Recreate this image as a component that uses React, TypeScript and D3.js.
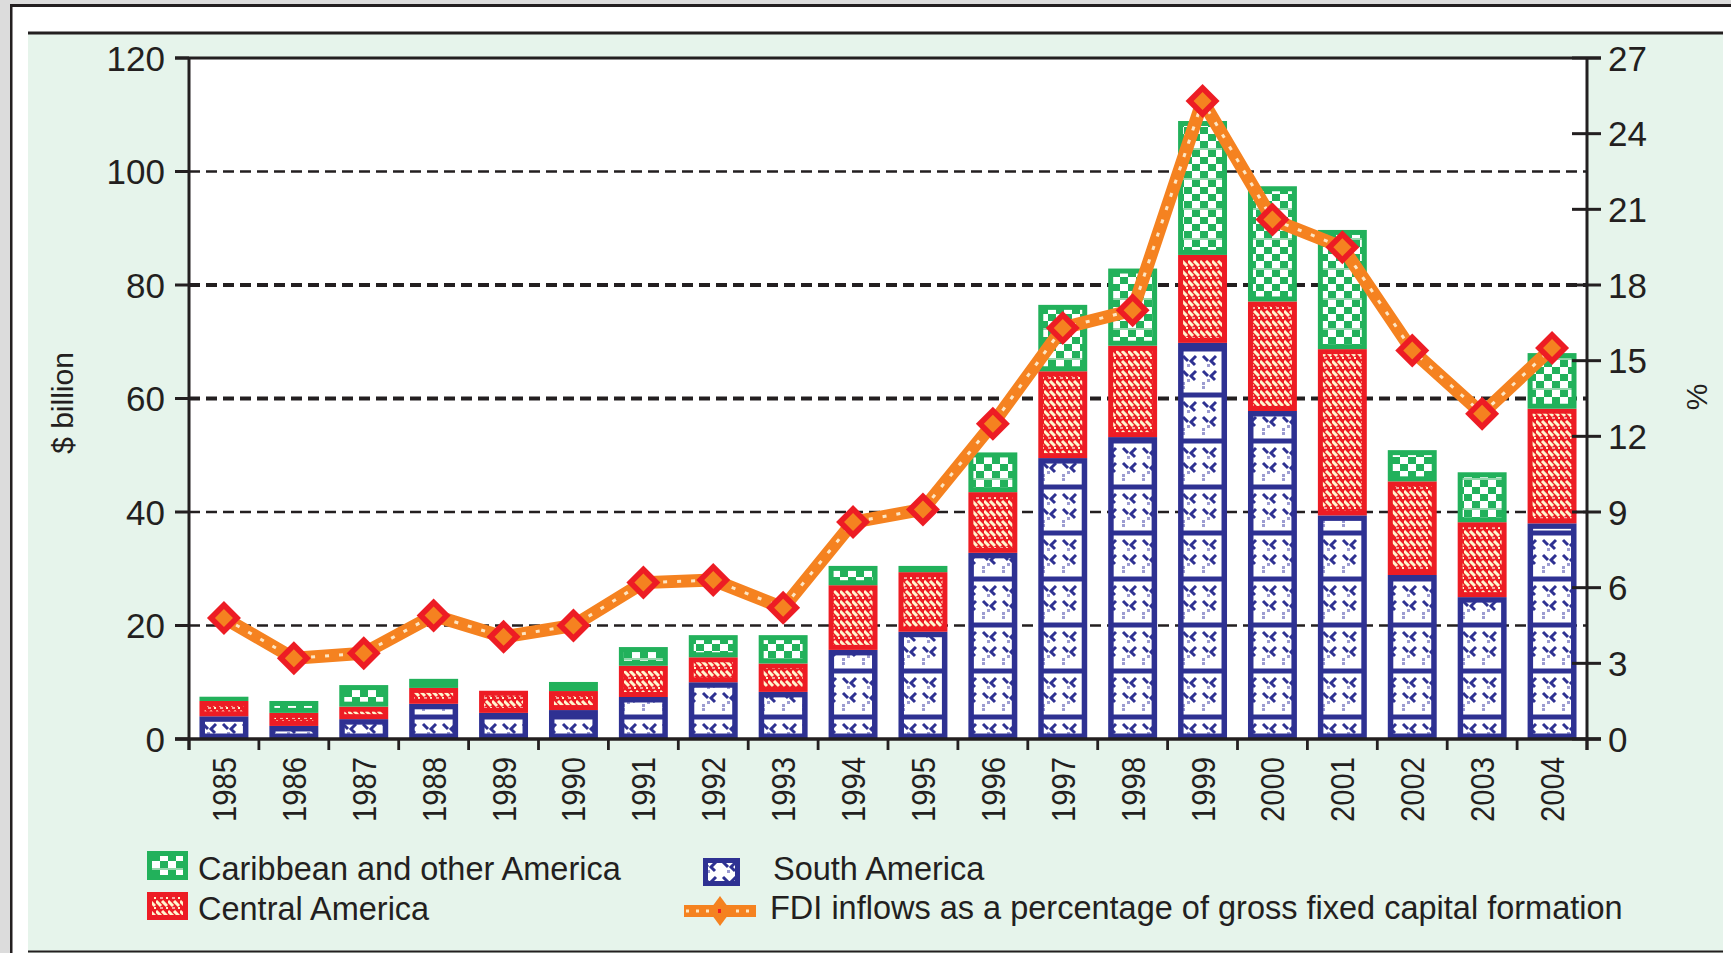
import React from 'react';
import * as d3 from 'd3';

const years = ['1985','1986','1987','1988','1989','1990','1991','1992','1993','1994','1995','1996','1997','1998','1999','2000','2001','2002','2003','2004'];
const southAmerica = [4.0, 2.3, 3.5, 6.2, 4.6, 5.1, 7.4, 10.0, 8.3, 15.7, 18.9, 32.8, 49.5, 53.2, 69.8, 57.8, 39.4, 28.9, 25.0, 38.0];
const centralAmerica = [2.7, 2.3, 2.2, 2.8, 3.9, 3.35, 5.5, 4.4, 5.0, 11.4, 10.5, 10.7, 15.3, 16.1, 15.5, 19.3, 29.3, 16.5, 13.2, 20.2];
const caribbean = [0.75, 2.1, 3.8, 1.6, 0, 1.6, 3.3, 3.9, 5.0, 3.4, 1.1, 7.0, 11.7, 13.6, 23.6, 20.3, 21.0, 5.5, 8.8, 9.8];
const fdiPct = [4.8, 3.2, 3.4, 4.9, 4.05, 4.5, 6.2, 6.3, 5.2, 8.6, 9.1, 12.5, 16.3, 17.0, 25.3, 20.6, 19.5, 15.4, 12.9, 15.5];
const leftTicks = [0, 20, 40, 60, 80, 100, 120];
const rightTicks = [0, 3, 6, 9, 12, 15, 18, 21, 24, 27];
const gridValues = [20, 40, 60, 80, 100];
const boldGrid = [60, 80];

const seriesKeys = ['south', 'central', 'carib'];
const seriesLabels: Record<string, string> = {
  carib: 'Caribbean and other America',
  central: 'Central America',
  south: 'South America',
  fdi: 'FDI inflows as a percentage of gross fixed capital formation',
};

const NAVY = '#2e3192';
const RED = '#ed1c24';
const GREEN = '#22b15b';
const ORANGE = '#f58220';
const INK = '#231f20';
const PANEL = '#e6f4eb';
const CREAM = '#fff7cf';
const FONT = '"Liberation Sans", Arial, Helvetica, sans-serif';

const W = 1731, H = 953;
const PL = 189, PR = 1587, PT = 58, PB = 739;

const colorOf: Record<string, string> = { south: NAVY, central: RED, carib: GREEN };
const patOf: Record<string, string> = { south: 'patSA', central: 'patCA', carib: 'patCB' };

function Seg({ x0, y0, w, h, k }: { x0: number; y0: number; w: number; h: number; k: string }) {
  const b = k === 'south' ? 5.5 : 5;
  return (
    <g>
      <rect x={x0} y={y0} width={w} height={h} fill={colorOf[k]} />
      {h > 2 * b + 1 && (
        <rect x={x0 + b} y={y0 + b} width={w - 2 * b} height={h - 2 * b} fill={`url(#${patOf[k]})`} />
      )}
    </g>
  );
}

export default function App() {
  const x = d3.scaleBand<string>().domain(years).range([PL, PR]).paddingInner(0.3).paddingOuter(0.15);
  const y = d3.scaleLinear().domain([0, 120]).range([PB, PT]);
  const y2 = d3.scaleLinear().domain([0, 27]).range([PB, PT]);
  const step = x.step();
  const bw = x.bandwidth();
  const cx = (yr: string) => (x(yr) as number) + bw / 2;
  const boundaries = [...years.map((yr) => (x(yr) as number) - step * 0.15), PR];

  const rows = years.map((yr, i) => ({ year: yr, south: southAmerica[i], central: centralAmerica[i], carib: caribbean[i] }));
  const stacked = d3.stack<any>().keys(seriesKeys)(rows);

  const line = d3.line<number>().x((_, i) => cx(years[i])).y((d) => y2(d));
  const linePath = line(fdiPct) || '';

  const diamond = (px: number, py: number, r: number) => `M${px},${py - r}L${px + r},${py}L${px},${py + r}L${px - r},${py}Z`;

  return (
    <div style={{ position: 'absolute', left: 0, top: 0, width: W, height: H }}>
      <svg width={W} height={H} viewBox={`0 0 ${W} ${H}`} style={{ display: 'block' }}>
        <defs>
          <pattern id="patSA" patternUnits="userSpaceOnUse" x={0} y={0} width={20} height={46}>
            <rect width={20} height={46} fill="#ffffff" />
            <rect x={0} y={24.5} width={20} height={5} fill={NAVY} />
            <path d="M3,3 L8,8 M16,3 L11,8 L15,12" stroke={NAVY} strokeWidth={3} fill="none" />
            <rect x={7} y={11} width={3} height={3} fill="#9c9cd1" />
            <rect x={2} y={14} width={3} height={3} fill="#9c9cd1" />
            <path d="M3,34 L8,39 M16,34 L11,39 L15,43" stroke={NAVY} strokeWidth={3} fill="none" />
            <rect x={7} y={42} width={3} height={3} fill="#9c9cd1" />
            <rect x={2} y={18} width={3} height={3} fill="#9c9cd1" />
          </pattern>
          <pattern id="patCA" patternUnits="userSpaceOnUse" x={0} y={0} width={12} height={10}>
            <rect width={12} height={10} fill={RED} />
            <path d="M0,1 L5,6 M6,1 L11,6" stroke={CREAM} strokeWidth={3} fill="none" />
            <rect x={4} y={7} width={3} height={2} fill="#f6a7a2" />
            <rect x={10} y={7} width={2} height={2} fill={CREAM} />
          </pattern>
          <pattern id="patCB" patternUnits="userSpaceOnUse" x={0} y={0} width={16} height={30}>
            <rect width={16} height={30} fill={GREEN} />
            <rect x={0} y={0} width={8} height={7} fill="#ffffff" />
            <rect x={8} y={7} width={8} height={7} fill="#ffffff" />
            <rect x={0} y={14} width={8} height={7} fill="#ffffff" />
            <rect x={8} y={21} width={8} height={7} fill="#ffffff" />
            <rect x={0} y={28} width={16} height={2} fill="#93d8ac" />
          </pattern>
        </defs>

        {/* page frame */}
        <rect x={0} y={0} width={W} height={H} fill="#ffffff" />
        <rect x={0} y={0} width={10} height={H} fill="#dcdcdc" />
        <rect x={0} y={0} width={W} height={4} fill="#dcdcdc" />
        <rect x={10} y={4} width={W - 10} height={3} fill={INK} />
        <rect x={10} y={4} width={2.5} height={H} fill={INK} />

        {/* green panel */}
        <rect x={28} y={34} width={1695} height={H - 34} fill={PANEL} />
        <line x1={28} x2={1723} y1={33} y2={33} stroke={INK} strokeWidth={3} />
        <line x1={28} x2={1723} y1={951.5} y2={951.5} stroke={INK} strokeWidth={2} />

        {/* plot background */}
        <rect x={PL} y={PT} width={PR - PL} height={PB - PT} fill="#ffffff" />

        {/* grid */}
        {gridValues.map((v) => (
          <line key={v} x1={PL} x2={PR} y1={y(v)} y2={y(v)} stroke={INK}
            strokeWidth={boldGrid.includes(v) ? 4.2 : 2.6} strokeDasharray="11,6" />
        ))}

        {/* bars */}
        {stacked.map((s) => (
          <g key={s.key}>
            {s.map((d, i) => {
              const top = y(d[1]);
              const bot = y(d[0]);
              const h = bot - top;
              if (h <= 0.2) return null;
              return <Seg key={i} x0={x(years[i]) as number} y0={top} w={bw} h={h} k={s.key} />;
            })}
          </g>
        ))}

        {/* axes */}
        <line x1={175} x2={1601} y1={PT} y2={PT} stroke={INK} strokeWidth={3} />
        <line x1={PL} x2={PL} y1={PT} y2={750} stroke={INK} strokeWidth={3} />
        <line x1={PR} x2={PR} y1={PT} y2={750} stroke={INK} strokeWidth={3} />
        <line x1={175} x2={1601} y1={PB} y2={PB} stroke={INK} strokeWidth={3.5} />
        {leftTicks.map((v) => (
          <g key={'l' + v}>
            <line x1={175} x2={PL} y1={y(v)} y2={y(v)} stroke={INK} strokeWidth={3} />
            <text x={165} y={y(v) + 12.5} textAnchor="end" fontFamily={FONT} fontSize={35} fill={INK}>{v}</text>
          </g>
        ))}
        {rightTicks.map((v) => (
          <g key={'r' + v}>
            <line x1={1572} x2={1601} y1={y2(v)} y2={y2(v)} stroke={INK} strokeWidth={3} />
            <text x={1608} y={y2(v) + 12.5} textAnchor="start" fontFamily={FONT} fontSize={35} fill={INK}>{v}</text>
          </g>
        ))}
        {boundaries.map((bx, i) => (
          <line key={'b' + i} x1={bx} x2={bx} y1={PB} y2={750} stroke={INK} strokeWidth={2.8} />
        ))}
        {years.map((yr) => (
          <text key={'t' + yr} transform={`translate(${cx(yr) + 12},757) rotate(-90)`} textAnchor="end"
            fontFamily={FONT} fontSize={33} fill={INK} textLength={65} lengthAdjust="spacingAndGlyphs">{yr}</text>
        ))}

        {/* axis titles */}
        <text transform="translate(73,403) rotate(-90)" textAnchor="middle" fontFamily={FONT} fontSize={30} fill={INK}>$ billion</text>
        <text transform="translate(1707,397) rotate(-90)" textAnchor="middle" fontFamily={FONT} fontSize={30} fill={INK}>%</text>

        {/* FDI line */}
        <path d={linePath} fill="none" stroke={ORANGE} strokeWidth={13} strokeLinejoin="round" />
        <path d={linePath} fill="none" stroke="#fde6c4" strokeWidth={3} strokeDasharray="4,10" />
        {fdiPct.map((v, i) => (
          <g key={'m' + i}>
            <path d={diamond(cx(years[i]), y2(v), 17)} fill={RED} />
            <path d={diamond(cx(years[i]), y2(v), 9)} fill={ORANGE} />
          </g>
        ))}

        {/* legend */}
        <rect x={147} y={851} width={41} height={29} fill={GREEN} />
        <rect x={152} y={856} width={31} height={19} fill="url(#patCB)" />
        <text x={198} y={880} fontFamily={FONT} fontSize={32.5} fill={INK}>{seriesLabels.carib}</text>
        <rect x={147} y={892} width={41} height={28} fill={RED} />
        <rect x={152} y={897} width={31} height={18} fill="url(#patCA)" />
        <text x={198} y={920} fontFamily={FONT} fontSize={32.5} fill={INK}>{seriesLabels.central}</text>
        <rect x={703} y={858} width={37} height={28} fill={NAVY} />
        <rect x={708} y={863} width={27} height={18} fill="url(#patSA)" />
        <text x={773} y={880} fontFamily={FONT} fontSize={32.5} fill={INK}>{seriesLabels.south}</text>
        <line x1={684} x2={756} y1={911} y2={911} stroke={ORANGE} strokeWidth={12} />
        <line x1={686} x2={756} y1={911} y2={911} stroke="#fde6c4" strokeWidth={3} strokeDasharray="3,7" />
        <path d="M720,896 L731,911 L720,926 L709,911 Z" fill={ORANGE} />
        <rect x={718} y={909} width={3} height={4} fill={RED} />
        <text x={770} y={919} fontFamily={FONT} fontSize={32.5} fill={INK}>{seriesLabels.fdi}</text>
      </svg>
    </div>
  );
}
